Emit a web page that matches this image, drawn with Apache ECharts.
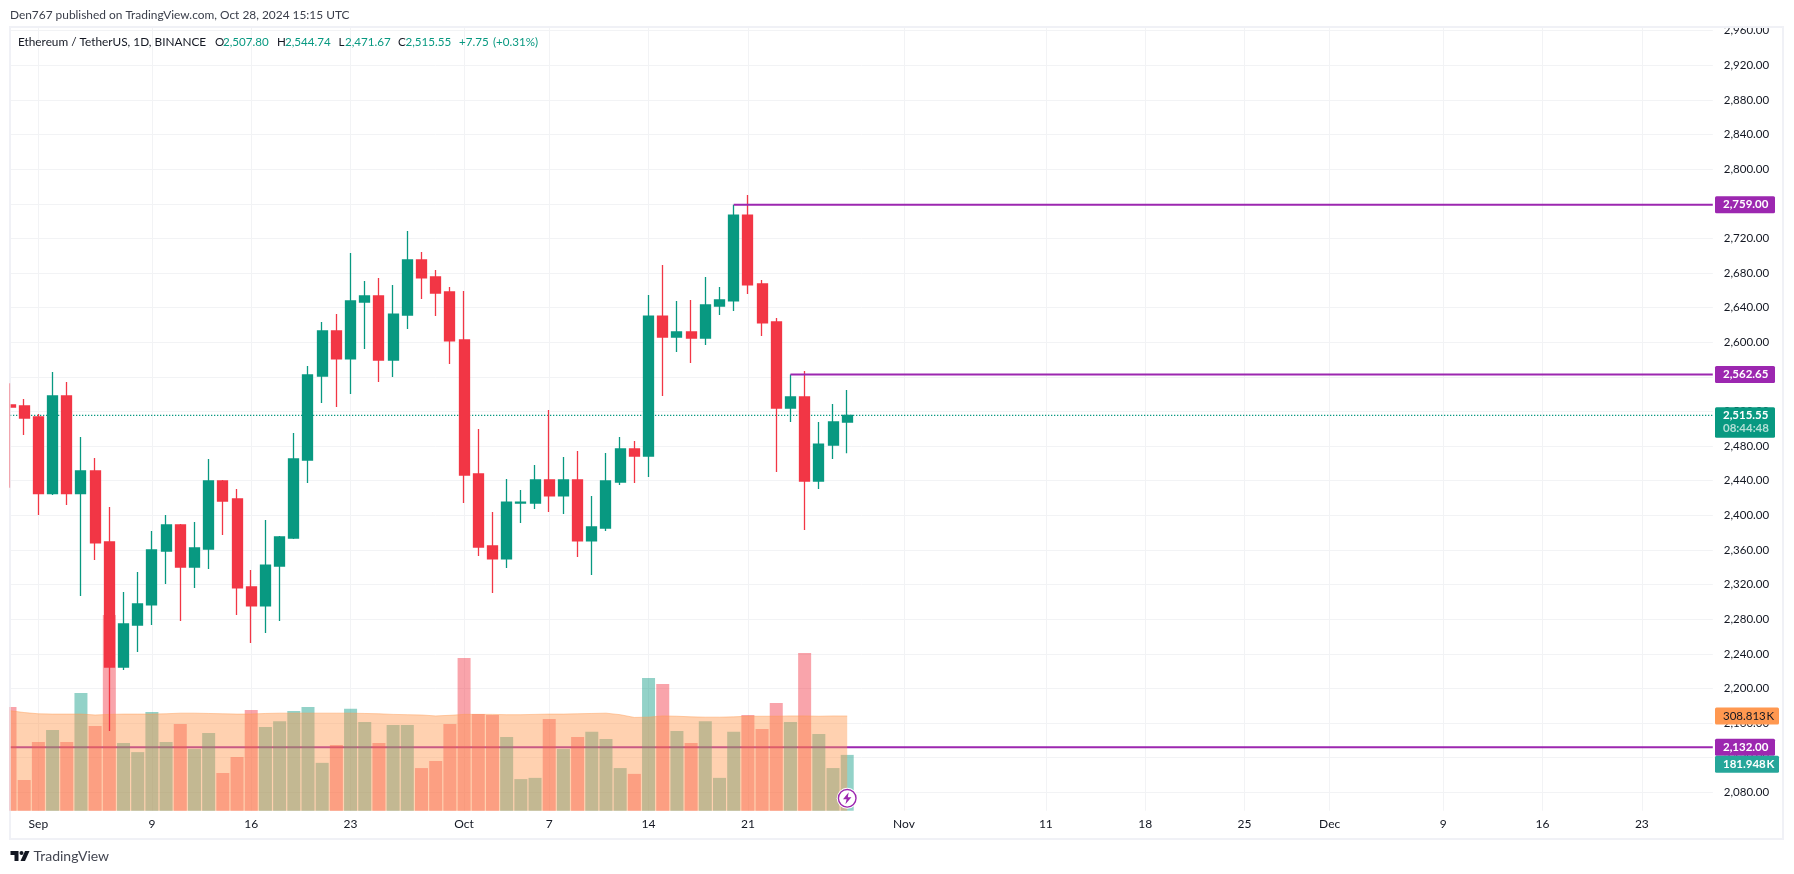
<!DOCTYPE html>
<html><head><meta charset="utf-8">
<style>html,body{margin:0;padding:0;background:#fff}#c{width:1794px;height:874px}</style>
<script src="https://cdn.jsdelivr.net/npm/echarts@6/dist/echarts.min.js"></script>
</head><body><div id="c"></div>
<script>
const opens=[2527.5,2526.4,2513.7,2425.0,2537.9,2425.0,2451.3,2369.2,2224.8,2273.3,2296.5,2358.8,2388.9,2340.3,2361.1,2439.7,2418.9,2317.2,2295.3,2341.5,2373.8,2463.9,2561.0,2613.0,2580.7,2646.5,2653.5,2579.5,2631.5,2695.1,2675.4,2658.1,2602.6,2447.8,2364.6,2349.6,2414.3,2414.3,2440.9,2422.4,2440.9,2370.4,2385.4,2438.5,2476.7,2468.6,2630.3,2606.1,2611.9,2604.9,2641.9,2647.7,2747.0,2667.3,2623.4,2524.0,2536.8,2439.7,2481.3,2507.80];
const closes=[2525.2,2512.5,2425.0,2537.9,2425.0,2451.3,2368.1,2224.8,2274.5,2297.6,2360.0,2388.9,2340.3,2362.3,2439.7,2416.6,2316.1,2295.3,2342.6,2375.0,2465.1,2562.2,2613.0,2580.7,2647.7,2653.5,2579.5,2632.6,2695.1,2674.3,2656.9,2601.5,2446.6,2363.4,2349.6,2415.4,2415.4,2440.9,2422.4,2440.9,2370.4,2386.6,2439.7,2476.7,2468.6,2630.3,2606.1,2611.9,2604.9,2643.1,2648.8,2747.0,2666.2,2622.3,2524.0,2536.8,2439.7,2482.4,2507.9,2515.55];
const lows=[2432.0,2492.9,2400.4,2423.5,2411.9,2306.8,2348.4,2150.9,2221.3,2242.1,2273.3,2320.7,2278.0,2316.1,2338.0,2377.3,2284.9,2252.5,2264.1,2278.0,2372.7,2437.4,2529.8,2525.2,2540.2,2592.2,2554.1,2559.9,2615.3,2650.0,2630.3,2574.9,2414.3,2353.0,2310.3,2339.2,2391.2,2407.4,2403.9,2401.6,2351.9,2331.1,2381.9,2435.1,2437.4,2444.3,2537.9,2588.8,2576.0,2596.8,2631.5,2636.1,2655.8,2607.2,2450.1,2507.9,2383.1,2430.5,2465.1,2471.67];
const highs=[2552.6,2534.5,2517.1,2565.6,2554.1,2490.5,2466.3,2409.7,2311.5,2334.6,2381.9,2400.4,2390.0,2392.3,2465.1,2440.9,2430.5,2336.9,2394.6,2376.1,2495.2,2572.6,2623.4,2632.6,2703.1,2670.8,2674.3,2666.2,2728.6,2704.3,2683.5,2663.9,2659.2,2499.8,2403.9,2442.0,2429.3,2458.2,2521.7,2467.4,2474.4,2422.4,2472.1,2490.5,2485.9,2654.6,2689.3,2647.7,2648.8,2675.4,2663.9,2759.0,2770.1,2671.9,2628.0,2562.65,2566.8,2507.9,2528.7,2544.74];
const volumes=[338,100,224,263,224,384,276,638,221,191,322,224,283,201,253,123,175,328,273,292,325,338,156,214,332,289,221,279,279,139,162,283,498,315,312,240,103,107,299,201,240,257,234,139,120,433,413,260,221,292,107,257,312,266,351,289,514,250,139,181.948];
const volumeMA=[326,320,316,315,315,315,312,314,315,315,315,316,318,318,317,316,315,315,317,318,318,318,318,318,318,317,316,314,313,312,309,311,314,314,314,313,313,314,315,315,316,317,318,313,304,305,309,308,306,305,305,306,308,308,308,309,309,308,309,308.813];
const priceTicks=[2080,2120,2160,2200,2240,2280,2320,2360,2400,2440,2480,2520,2560,2600,2640,2680,2720,2760,2800,2840,2880,2920,2960];
const timeLabels={'2024-09-01':'Sep','2024-09-09':'9','2024-09-16':'16','2024-09-23':'23','2024-10-01':'Oct','2024-10-07':'7','2024-10-14':'14','2024-10-21':'21','2024-11-01':'Nov','2024-11-11':'11','2024-11-18':'18','2024-11-25':'25','2024-12-01':'Dec','2024-12-09':'9','2024-12-16':'16','2024-12-23':'23'};
const levelHigh=2759.00, levelHighStart='2024-10-20';
const levelMid=2562.65, levelMidStart='2024-10-24';
const levelLow=2132.00;
const lastPrice=2515.55, lastVolMA=308.813, lastVol=181.948;

const dates=[];
for(let t=Date.UTC(2024,7,30);t<=Date.UTC(2024,11,28);t+=864e5){dates.push(new Date(t).toISOString().slice(0,10));}

const FONT='Lato';
const UP='#089981',DOWN='#f23645',PURPLE='#9c27b0',GRID='#f2f3f5',FRAME='#f0f1f6',TXT='#131722';
const hasLabel=(i,v)=>v in timeLabels;
const fmt=v=>v.toLocaleString('en-US',{minimumFractionDigits:2,maximumFractionDigits:2});
const volUp=i=>closes[i]>=opens[i];

const chart=echarts.init(document.getElementById('c'),null,{renderer:'canvas'});
chart.setOption({
  animation:false,backgroundColor:'#fff',
  textStyle:{fontFamily:FONT},
  grid:{left:10,top:28,width:1702.8,height:782.7,containLabel:false},
  xAxis:{type:'category',data:dates,boundaryGap:false,
    axisLine:{show:false},axisTick:{show:false,interval:hasLabel},
    axisLabel:{interval:hasLabel,formatter:v=>timeLabels[v]||'',color:TXT,fontSize:12,fontFamily:FONT,margin:7},
    splitLine:{show:true,interval:hasLabel,lineStyle:{color:GRID,width:1}}},
  yAxis:[
    {type:'value',position:'right',min:2058.75,max:2963.1,scale:true,
     axisLine:{show:false},axisTick:{show:false,customValues:priceTicks},
     axisLabel:{customValues:priceTicks,formatter:fmt,color:TXT,fontSize:11.5,fontFamily:FONT,margin:11,padding:[0,0,2,0]},
     splitLine:{show:true,lineStyle:{color:GRID,width:1}}},
    {type:'value',position:'left',min:0,max:2551.6,show:false,splitLine:{show:false}}
  ],
  series:[
    {name:'Level low',type:'line',z:1,showSymbol:false,silent:true,data:dates.map(()=>levelLow),lineStyle:{color:PURPLE,width:2}},
    {name:'Volume',type:'bar',yAxisIndex:1,z:2,barWidth:13,silent:true,
     data:volumes.map((v,i)=>({value:v,itemStyle:{color:volUp(i)?'rgba(8,153,129,.44)':'rgba(242,54,69,.45)'}}))},
    {name:'Volume MA',type:'line',yAxisIndex:1,z:3,showSymbol:false,silent:true,data:volumeMA,
     lineStyle:{color:'rgba(255,152,80,.45)',width:1},areaStyle:{color:'rgba(255,152,80,.45)',opacity:1,origin:'start'}},
    {name:'Last price',type:'line',z:4,showSymbol:false,silent:true,data:dates.map(()=>lastPrice),lineStyle:{color:UP,width:1.2,type:[1.3,1.7]}},
    {name:'ETHUSDT',type:'candlestick',z:5,barWidth:10.5,silent:true,
     data:opens.map((o,i)=>[o,closes[i],lows[i],highs[i]]),
     itemStyle:{color:UP,color0:DOWN,borderColor:UP,borderColor0:DOWN,borderWidth:1.3}},
    {name:'Level high',type:'line',z:6,showSymbol:false,silent:true,data:dates.map(d=>d>=levelHighStart?levelHigh:null),lineStyle:{color:PURPLE,width:2}},
    {name:'Level mid',type:'line',z:6,showSymbol:false,silent:true,data:dates.map(d=>d>=levelMidStart?levelMid:null),lineStyle:{color:PURPLE,width:2}}
  ]
});

const py=v=>chart.convertToPixel({yAxisIndex:0},v);
const vy=v=>chart.convertToPixel({yAxisIndex:1},v);
const lastX=chart.convertToPixel({xAxisIndex:0},dates[opens.length-1]);
const text=(x,y,s,color,opt)=>({type:'text',z:120,x,y,style:Object.assign({text:s,fill:color,font:'12px '+FONT,textVerticalAlign:'middle'},opt||{})});
const rect=(x,y,w,h,fill,z,op)=>({type:'rect',z:z,shape:{x,y,width:w,height:h,r:0},style:{fill,opacity:op==null?1:op}});
const tag=(y,w,fill,s,color,weight)=>[
  {type:'rect',z:110,shape:{x:1715,y:y-8.5,width:w,height:17,r:1.5},style:{fill}},
  text(1723,y,s,color,{font:(weight||'700')+' 11.5px '+FONT})
];
const header=[
  [18,'Ethereum / TetherUS, 1D, BINANCE',TXT,'11.8px '],[215,'O',TXT],[223,'2,507.80',UP],[277,'H',TXT],[285,'2,544.74',UP],
  [338.5,'L',TXT],[345,'2,471.67',UP],[398,'C',TXT],[405.5,'2,515.55',UP],[459,'+7.75',UP],[493,'(+0.31%)',UP]
];
const pY=py(lastPrice);
const bx=lastX, by=798.3;
chart.setOption({graphic:[
  rect(9,26,1775,2,FRAME,100),
  rect(9,838,1775,2,FRAME,100),
  rect(1782,26,2,814,FRAME,100),
  rect(0,16,1794,10,'#fff',99),
  rect(0,26,9,814,'#fff',99),
  rect(9,26,2,814,FRAME,0),
  rect(9,28,2,783,FRAME,100,.6),
  text(10,15,'Den767 published on TradingView.com, Oct 28, 2024 15:15 UTC','#3a3e4a',{font:'11.9px '+FONT}),
  ...header.map(h=>text(h[0],42,h[1],h[2],{font:(h[3]||'11.6px ')+FONT})),
  ...tag(py(levelHigh),60,PURPLE,fmt(levelHigh),'#fff'),
  ...tag(py(levelMid),60,PURPLE,fmt(levelMid),'#fff'),
  {type:'rect',z:110,shape:{x:1715,y:pY-8,width:60,height:30.5,r:1.5},style:{fill:UP}},
  text(1723,pY-0.3,fmt(lastPrice),'#fff',{font:'700 11.5px '+FONT}),
  text(1723,pY+13.3,'08:44:48','#b2dfd6',{font:'700 11.5px '+FONT}),
  ...tag(vy(lastVolMA),64,'#ff9850','308.813\u200aK',TXT,'400'),
  ...tag(py(levelLow),60,PURPLE,fmt(levelLow),'#fff'),
  ...tag(vy(lastVol)+9.3,64,'#26a69a','181.948\u200aK','#fff'),
  {type:'circle',z:115,shape:{cx:bx,cy:by,r:10.5},style:{fill:'#fff'}},
  {type:'circle',z:116,shape:{cx:bx,cy:by,r:8.8},style:{fill:'#fff',stroke:PURPLE,lineWidth:1.4}},
  {type:'polygon',z:117,shape:{points:[[bx+1.5,by-6],[bx-4.2,by+1],[bx-0.6,by+1],[bx-1.8,by+6],[bx+4.2,by-1],[bx+0.6,by-1]]},style:{fill:PURPLE}},
  {type:'polygon',z:100,shape:{points:[[10.5,851],[18.5,851],[18.5,861],[14.5,861],[14.5,855],[10.5,855]]},style:{fill:TXT}},
  {type:'polygon',z:100,shape:{points:[[29.5,851],[25,861],[20.5,861],[25,851]]},style:{fill:TXT}},
  {type:'circle',z:100,shape:{cx:21.5,cy:853,r:2},style:{fill:TXT}},
  text(33.5,856.5,'TradingView','#434651',{font:'14px '+FONT})
]});
</script></body></html>
